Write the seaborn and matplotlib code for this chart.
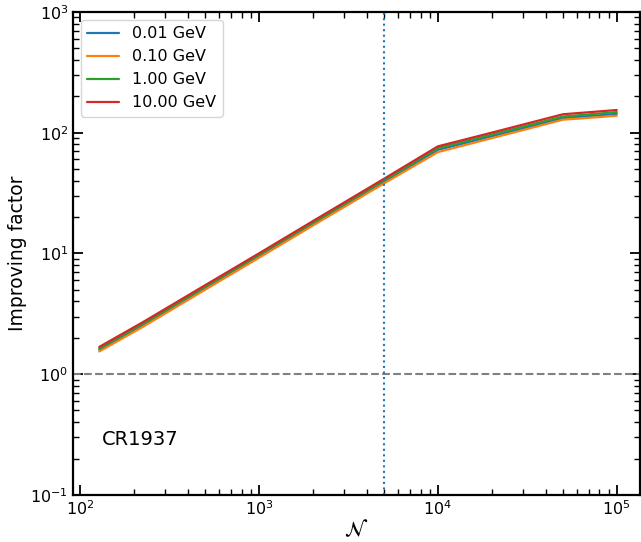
import numpy as np
import pandas as pd
import matplotlib
matplotlib.use("Agg")
import matplotlib.pyplot as plt
import seaborn as sns
from matplotlib.ticker import LogLocator, NullFormatter

# Number of sources N
n_sources = [128, 225, 500, 1000, 2000, 5000, 10000, 20000, 50000, 100000]

# Improving factor for each energy threshold
factor_001 = [1.59, 2.56, 5.15, 9.5, 17.5, 39.2, 72.0, 93.3, 132.0, 143.0]
factor_010 = [1.54, 2.47, 5.00, 9.2, 17.0, 38.0, 69.0, 90.0, 128.0, 138.0]
factor_100 = [1.63, 2.62, 5.30, 9.75, 18.0, 40.3, 74.5, 96.4, 136.0, 148.0]
factor_1000 = [1.68, 2.70, 5.45, 10.0, 18.5, 41.5, 77.0, 100.0, 142.0, 154.0]

labels = ["0.01 GeV", "0.10 GeV", "1.00 GeV", "10.00 GeV"]
n_marker = 5000
reference_level = 1.0
source_name = "CR1937"

frames = []
for lab, vals in zip(labels, [factor_001, factor_010, factor_100, factor_1000]):
    frames.append(pd.DataFrame({"N": n_sources, "factor": vals, "threshold": lab}))
df = pd.concat(frames, ignore_index=True)

sns.set_style("ticks")
plt.rcParams["font.family"] = ["DejaVu Sans"]
plt.rcParams["mathtext.fontset"] = "dejavusans"
for key in ["text.color", "axes.labelcolor", "xtick.color", "ytick.color", "axes.edgecolor"]:
    plt.rcParams[key] = "black"

fig = plt.figure(figsize=(6.41, 5.42), dpi=100)
ax = fig.add_axes([0.114, 0.087, 0.884, 0.891])

palette = dict(zip(labels, sns.color_palette("tab10", 4)))
sns.lineplot(data=df, x="N", y="factor", hue="threshold", hue_order=labels,
             palette=palette, linewidth=1.6, ax=ax, estimator=None, sort=True)

ax.set_xscale("log")
ax.set_yscale("log")
ax.set_xlim(91.4, 1.344e5)
ax.set_ylim(0.1, 1000)

ax.axhline(reference_level, color="gray", linestyle="--", linewidth=1.5)
ax.axvline(n_marker, color=sns.color_palette("tab10")[0], linestyle=":", linewidth=1.5)

ax.text(0.051, 0.114, source_name, transform=ax.transAxes, fontsize=14,
        ha="left", va="center")

ax.set_xlabel(r"$\mathcal{N}$", fontsize=15)
ax.set_ylabel("Improving factor", fontsize=13.5)
ax.yaxis.set_label_coords(-0.081, 0.5)
ax.xaxis.set_label_coords(0.5, -0.048)

ax.yaxis.set_major_locator(LogLocator(base=10, numticks=10))
ax.yaxis.set_minor_locator(LogLocator(base=10, subs=np.arange(2, 10), numticks=20))
ax.yaxis.set_minor_formatter(NullFormatter())
ax.xaxis.set_minor_locator(LogLocator(base=10, subs=np.arange(2, 10), numticks=20))
ax.xaxis.set_minor_formatter(NullFormatter())

ax.tick_params(which="both", direction="in", top=True, right=True, labelsize=11.5)
ax.tick_params(which="major", length=7, width=1.3)
ax.tick_params(which="minor", length=4, width=1.0)
for sp in ax.spines.values():
    sp.set_linewidth(1.6)
    sp.set_color("black")

leg = ax.legend(loc="upper left", fontsize=11.5, title=None)

fig.savefig("out.png", dpi=100)
